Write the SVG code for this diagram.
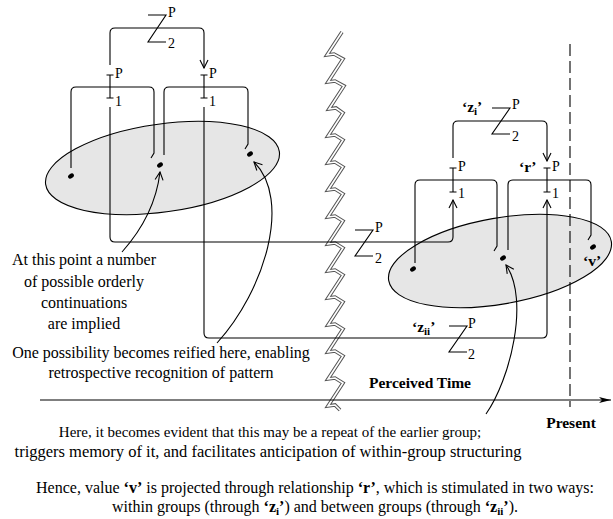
<svg xmlns="http://www.w3.org/2000/svg" width="613" height="519" viewBox="0 0 613 519">
<style>
.ln{fill:none;stroke:#000;stroke-width:1.1}
.t{font-family:"Liberation Serif","Times New Roman",serif;font-size:16px;fill:#000}
.s{font-family:"Liberation Serif","Times New Roman",serif;font-size:14px;fill:#000}
.b{font-family:"Liberation Serif","Times New Roman",serif;font-size:15.5px;font-weight:bold;fill:#000}
.sub{font-size:11px}
.ell{fill:#e6e6e6;stroke:#000;stroke-width:1.1}
.dot{fill:#000}
</style>
<defs>
<marker id="ah" viewBox="0 0 10 10" refX="9" refY="5" markerWidth="10" markerHeight="10" markerUnits="userSpaceOnUse" orient="auto">
<path d="M1,1 L9,5 L1,9" fill="none" stroke="#000" stroke-width="1.1"/>
</marker>
<marker id="axh" viewBox="0 0 12 8" refX="12" refY="4" markerWidth="12" markerHeight="8" markerUnits="userSpaceOnUse" orient="auto">
<path d="M0,1 L12,4 L0,7 L3,4 Z" fill="#000"/>
</marker>
</defs>

<g id="group-earlier">
<ellipse class="ell" cx="162.5" cy="168" rx="118" ry="44" transform="rotate(-8 162.5 168)"/>
<ellipse class="dot" cx="71" cy="176" rx="3.2" ry="2.2" transform="rotate(-35 71 176)"/>
<ellipse class="dot" cx="160" cy="165" rx="3.2" ry="2.2" transform="rotate(-35 160 165)"/>
<ellipse class="dot" cx="250" cy="154" rx="3.2" ry="2.2" transform="rotate(-35 250 154)"/>
</g>
<g id="group-current">
<ellipse class="ell" cx="500" cy="261" rx="113" ry="43" transform="rotate(-10 500 261)"/>
<ellipse class="dot" cx="413" cy="269" rx="3.2" ry="2.2" transform="rotate(-35 413 269)"/>
<ellipse class="dot" cx="503" cy="258" rx="3.2" ry="2.2" transform="rotate(-35 503 258)"/>
<ellipse class="dot" cx="593" cy="247" rx="3.2" ry="2.2" transform="rotate(-35 593 247)"/>
<text class="b" x="583" y="266">‘v’</text>
</g>

<g id="timebreak">
<polyline fill="none" stroke="#555" stroke-width="3.6" stroke-linejoin="miter" points="342,32 327,55 334,54 343,59 328,82 335,81 344,86 329,109 336,108 343,113 328,136 335,135 343,140 328,163 335,162 343,167 328,190 335,189 343,194 328,217 335,216 343,221 328,244 335,243 343,248 328,271 335,270 343,275 328,298 335,297 343,302 328,325 335,324 343,329 328,352 335,351 343,356 328,379 335,378 343,383 328,406 335,405 340,410"/>
<polyline fill="none" stroke="#fff" stroke-width="1.6" stroke-linejoin="miter" points="342,32 327,55 334,54 343,59 328,82 335,81 344,86 329,109 336,108 343,113 328,136 335,135 343,140 328,163 335,162 343,167 328,190 335,189 343,194 328,217 335,216 343,221 328,244 335,243 343,248 328,271 335,270 343,275 328,298 335,297 343,302 328,325 335,324 343,329 328,352 335,351 343,356 328,379 335,378 343,383 328,406 335,405 340,410"/>
</g>

<g id="connectors">
<path class="ln" d="M110,65 V33 Q110,28 115,28 H199 Q204,28 204,33 V68" marker-end="url(#ah)"/>
<path class="ln" d="M71,168 V92 Q71,87 76,87 H149 Q154,87 154,92 V153 l-3,5"/>
<path class="ln" d="M164,155 V92 Q164,87 169,87 H243 Q248,87 248,92 V144 l-3,5"/>
<path class="ln" d="M110,107 V237 Q110,242 115,242 H448 Q453,242 453,237 V200" marker-end="url(#ah)"/>
<path class="ln" d="M204,107 V333 Q204,338 209,338 H542 Q547,338 547,333 V200" marker-end="url(#ah)"/>
<path class="ln" d="M453,158 V126 Q453,121 458,121 H542 Q547,121 547,126 V161" marker-end="url(#ah)"/>
<path class="ln" d="M415,263 V185 Q415,180 420,180 H492 Q497,180 497,185 V246 l-3,5"/>
<path class="ln" d="M508,250 V185 Q508,180 513,180 H586 Q591,180 591,185 V235 l-3,5"/>
<path class="ln" d="M148,15 H166 L148,42 H166"/>
<path class="ln" d="M355,230 H373 L355,256 H373"/>
<path class="ln" d="M492,108 H510 L492,134 H510"/>
<path class="ln" d="M449,326 H467 L449,352 H467"/>
<path class="ln" d="M110,75 V98 M106.5,75 H113.5 M106.5,98 H113.5"/>
<path class="ln" d="M204,75 V98 M200.5,75 H207.5 M200.5,98 H207.5"/>
<path class="ln" d="M453,168 V192 M449.5,168 H456.5 M449.5,192 H456.5"/>
<path class="ln" d="M547,168 V192 M543.5,168 H550.5 M543.5,192 H550.5"/>
<path class="ln" d="M122,252 Q155,215 160,172" marker-end="url(#ah)"/>
<path class="ln" d="M217,343 C265,290 292,200 254,162" marker-end="url(#ah)"/>
<path class="ln" d="M486,414 C510,380 530,300 506,265" marker-end="url(#ah)"/>
<path class="ln" d="M40,400 H611" marker-end="url(#axh)"/>
<path class="ln" d="M570,44 V407" stroke-dasharray="12,5"/>
</g>

<g id="labels">
<text class="s" x="168" y="17">P</text>
<text class="s" x="168" y="48">2</text>
<text class="s" x="375" y="232">P</text>
<text class="s" x="375" y="263">2</text>
<text class="s" x="512" y="109">P</text>
<text class="s" x="512" y="141">2</text>
<text class="s" x="468" y="328">P</text>
<text class="s" x="468" y="359">2</text>
<text class="s" x="115" y="78">P</text>
<text class="s" x="115" y="106">1</text>
<text class="s" x="209" y="78">P</text>
<text class="s" x="209" y="106">1</text>
<text class="s" x="458" y="171">P</text>
<text class="s" x="458" y="198">1</text>
<text class="s" x="552" y="171">P</text>
<text class="s" x="552" y="198">1</text>
<text class="b" x="462" y="112">‘z<tspan class="sub" dy="3">i</tspan><tspan dy="-3">’</tspan></text>
<text class="b" x="519" y="172">‘r’</text>
<text class="b" x="412" y="332">‘z<tspan class="sub" dy="3">ii</tspan><tspan dy="-3">’</tspan></text>
</g>

<g id="notes">
<text class="t" text-anchor="middle" x="84" y="265" font-size="15.5">At this point a number</text>
<text class="t" text-anchor="middle" x="84" y="287" font-size="15.5">of possible orderly</text>
<text class="t" text-anchor="middle" x="84" y="308" font-size="15.5">continuations</text>
<text class="t" text-anchor="middle" x="84" y="329" font-size="15.5">are implied</text>
<text class="t" text-anchor="middle" x="161" y="358">One possibility becomes reified here, enabling</text>
<text class="t" text-anchor="middle" x="161" y="378">retrospective recognition of pattern</text>
<text class="b" text-anchor="middle" x="420" y="388" font-size="15px">Perceived Time</text>
<text class="b" text-anchor="middle" x="571" y="428">Present</text>
<text class="t" text-anchor="middle" x="270" y="437" style="font-size:15px">Here, it becomes evident that this may be a repeat of the earlier group;</text>
<text class="t" text-anchor="middle" x="268" y="457" style="font-size:16.5px">triggers memory of it, and facilitates anticipation of within-group structuring</text>
<text class="t" text-anchor="middle" x="315" y="493">Hence, value <tspan font-weight="bold">‘v’</tspan> is projected through relationship <tspan font-weight="bold">‘r’</tspan>, which is stimulated in two ways:</text>
<text class="t" text-anchor="middle" x="315" y="512">within groups (through <tspan font-weight="bold">‘z<tspan class="sub" dy="3">i</tspan><tspan dy="-3">’</tspan></tspan>) and between groups (through <tspan font-weight="bold">‘z<tspan class="sub" dy="3">ii</tspan><tspan dy="-3">’</tspan></tspan>).</text>
</g>
</svg>
